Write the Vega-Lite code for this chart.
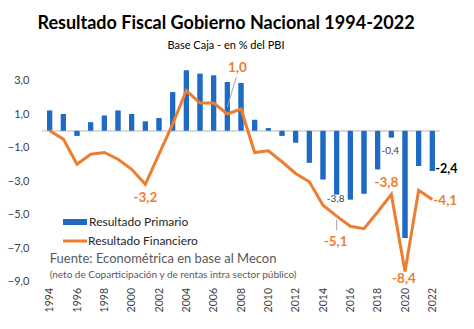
{
  "$schema": "https://vega.github.io/schema/vega-lite/v6.json",
  "width": 420,
  "height": 234.5,
  "autosize": "none",
  "padding": {"left": 31, "top": 47, "right": 23, "bottom": 47.5},
  "background": "white",
  "config": {
    "view": {"stroke": null},
    "font": "Lato",
    "axis": {"labelOverlap": false, "labelBound": false, "labelFlush": false, "domain": false, "ticks": false, "grid": false, "title": null, "tickCount": 50}
  },
  "title": {
    "text": "Resultado Fiscal Gobierno Nacional 1994-2022",
    "subtitle": "Base Caja - en % del PBI",
    "anchor": "middle",
    "dx": -15,
    "font": "Lato",
    "fontSize": 18,
    "fontWeight": "bold",
    "color": "#000000",
    "subtitleFont": "Lato",
    "subtitleFontSize": 11,
    "subtitleColor": "#000000",
    "subtitlePadding": 7,
    "offset": -4
  },
  "datasets": {
    "serie": [
      {"anio": 1994, "primario": 1.2, "financiero": 0.0},
      {"anio": 1995, "primario": 1.0, "financiero": -0.5},
      {"anio": 1996, "primario": -0.3, "financiero": -2.0},
      {"anio": 1997, "primario": 0.5, "financiero": -1.4},
      {"anio": 1998, "primario": 0.9, "financiero": -1.3},
      {"anio": 1999, "primario": 1.2, "financiero": -1.7},
      {"anio": 2000, "primario": 1.0, "financiero": -2.3},
      {"anio": 2001, "primario": 0.55, "financiero": -3.2},
      {"anio": 2002, "primario": 0.75, "financiero": -1.4},
      {"anio": 2003, "primario": 2.3, "financiero": 0.4},
      {"anio": 2004, "primario": 3.6, "financiero": 2.4},
      {"anio": 2005, "primario": 3.4, "financiero": 1.65},
      {"anio": 2006, "primario": 3.3, "financiero": 1.65},
      {"anio": 2007, "primario": 2.9, "financiero": 1.0},
      {"anio": 2008, "primario": 2.85, "financiero": 1.3},
      {"anio": 2009, "primario": 0.65, "financiero": -1.3},
      {"anio": 2010, "primario": 0.15, "financiero": -1.2},
      {"anio": 2011, "primario": -0.3, "financiero": -1.85},
      {"anio": 2012, "primario": -0.7, "financiero": -2.55},
      {"anio": 2013, "primario": -1.9, "financiero": -3.05},
      {"anio": 2014, "primario": -2.9, "financiero": -4.45},
      {"anio": 2015, "primario": -3.8, "financiero": -5.1},
      {"anio": 2016, "primario": -4.1, "financiero": -5.7},
      {"anio": 2017, "primario": -3.75, "financiero": -5.85},
      {"anio": 2018, "primario": -2.3, "financiero": -4.85},
      {"anio": 2019, "primario": -0.4, "financiero": -3.8},
      {"anio": 2020, "primario": -6.4, "financiero": -8.4},
      {"anio": 2021, "primario": -2.1, "financiero": -3.55},
      {"anio": 2022, "primario": -2.4, "financiero": -4.1}
    ],
    "etiquetas": [
      {"id": "f2007", "anio": 2007, "valor": 1.0, "texto": "1,0"},
      {"id": "f2001", "anio": 2001, "valor": -3.2, "texto": "-3,2"},
      {"id": "f2015", "anio": 2015, "valor": -5.1, "texto": "-5,1"},
      {"id": "f2019", "anio": 2019, "valor": -3.8, "texto": "-3,8"},
      {"id": "f2020", "anio": 2020, "valor": -8.4, "texto": "-8,4"},
      {"id": "f2022", "anio": 2022, "valor": -4.1, "texto": "-4,1"},
      {"id": "p2015", "anio": 2015, "valor": -3.8, "texto": "-3,8"},
      {"id": "p2019", "anio": 2019, "valor": -0.4, "texto": "-0,4"},
      {"id": "p2022", "anio": 2022, "valor": -2.4, "texto": "-2,4"}
    ],
    "guias": [
      {"x": 2007, "y": 1.4, "x2": 2007.65, "y2": 3.2},
      {"x": 2015, "y": -5.3, "x2": 2015, "y2": -5.95}
    ],
    "notas": [
      {"anio": 1994, "valor": -7.67, "texto": "Fuente: Econométrica en base al Mecon", "linea": 1},
      {"anio": 1994, "valor": -8.62, "texto": "(neto de Coparticipación y de rentas intra sector público)", "linea": 2}
    ]
  },
  "layer": [
    {
      "data": {"name": "serie"},
      "mark": {"type": "bar", "size": 5},
      "encoding": {
        "x": {
          "field": "anio", "type": "quantitative",
          "scale": {"domain": [1993, 2023], "nice": false, "zero": false},
          "axis": {
            "values": [1994, 1996, 1998, 2000, 2002, 2004, 2006, 2008, 2010, 2012, 2014, 2016, 2018, 2020, 2022],
            "tickCount": 50,
            "format": "d", "labelAngle": 270, "labelPadding": 6, "labelOverlap": false,
            "labelFont": "Lato", "labelFontSize": 10.5, "labelColor": "#404040"
          }
        },
        "y": {
          "field": "primario", "type": "quantitative",
          "scale": {"domain": [-9, 5], "nice": false},
          "axis": {
            "values": [3, 1, -1, -3, -5, -7, -9],
            "tickCount": 50,
            "labelExpr": "replace(format(datum.value, '.1f'), '.', ',')",
            "labelOverlap": false,
            "labelPadding": 2, "labelFont": "Lato", "labelFontSize": 11, "labelColor": "#404040"
          }
        },
        "fill": {
          "datum": "Resultado Primario",
          "scale": {"domain": ["Resultado Primario"], "range": ["#1f6bc4"]},
          "legend": {
            "title": null, "orient": "none", "legendX": 29, "legendY": 160,
            "padding": 0, "symbolSize": 576, "symbolType": "stroke", "labelOffset": -1,
            "labelFont": "Lato", "labelFontSize": 12, "labelColor": "#262626",
            "encode": {
              "symbols": {
                "update": {
                  "stroke": {"value": "#1f6bc4"},
                  "strokeWidth": {"value": 6},
                  "strokeCap": {"value": "butt"},
                  "fill": {"value": "transparent"},
                  "opacity": {"value": 1}
                }
              }
            }
          }
        }
      }
    },
    {
      "data": {"name": "serie"},
      "mark": {"type": "rule", "color": "#d9d9d9", "strokeWidth": 1},
      "encoding": {
        "y": {"datum": 0, "type": "quantitative"},
        "x": {"datum": 1993.5, "type": "quantitative"},
        "x2": {"datum": 2022.5}
      }
    },
    {
      "data": {"name": "serie"},
      "mark": {"type": "bar", "size": 5, "color": "#1f6bc4"},
      "encoding": {
        "x": {"field": "anio", "type": "quantitative"},
        "y": {"field": "primario", "type": "quantitative"}
      }
    },
    {
      "data": {"name": "serie"},
      "mark": {"type": "line", "strokeWidth": 3, "strokeJoin": "miter"},
      "encoding": {
        "x": {"field": "anio", "type": "quantitative"},
        "y": {"field": "financiero", "type": "quantitative"},
        "stroke": {
          "datum": "Resultado Financiero",
          "scale": {"domain": ["Resultado Financiero"], "range": ["#ed7d31"]},
          "legend": {
            "title": null, "orient": "none", "legendX": 30.5, "legendY": 180.5,
            "padding": 0, "symbolSize": 576, "symbolType": "stroke", "labelOffset": -0.5,
            "labelFont": "Lato", "labelFontSize": 12, "labelColor": "#262626",
            "encode": {
              "symbols": {
                "update": {
                  "stroke": {"value": "#ed7d31"},
                  "strokeWidth": {"value": 3},
                  "strokeCap": {"value": "butt"},
                  "fill": {"value": "transparent"},
                  "opacity": {"value": 1}
                }
              }
            }
          }
        }
      }
    },
    {
      "data": {"name": "guias"},
      "mark": {"type": "rule", "color": "#a6a6a6", "strokeWidth": 1},
      "encoding": {
        "x": {"field": "x", "type": "quantitative"},
        "y": {"field": "y", "type": "quantitative"},
        "x2": {"field": "x2"},
        "y2": {"field": "y2"}
      }
    },
    {
      "data": {"name": "etiquetas"},
      "transform": [{"filter": "datum.id === 'f2007'"}],
      "mark": {"type": "text", "font": "Lato", "fontSize": 13.5, "fontWeight": "bold", "color": "#ed7d31", "align": "center", "baseline": "middle", "dx": 10, "dy": -46},
      "encoding": {"x": {"field": "anio", "type": "quantitative"}, "y": {"field": "valor", "type": "quantitative"}, "text": {"field": "texto"}}
    },
    {
      "data": {"name": "etiquetas"},
      "transform": [{"filter": "datum.id === 'f2001'"}],
      "mark": {"type": "text", "font": "Lato", "fontSize": 13.5, "fontWeight": "bold", "color": "#ed7d31", "align": "center", "baseline": "middle", "dx": 0, "dy": 14},
      "encoding": {"x": {"field": "anio", "type": "quantitative"}, "y": {"field": "valor", "type": "quantitative"}, "text": {"field": "texto"}}
    },
    {
      "data": {"name": "etiquetas"},
      "transform": [{"filter": "datum.id === 'f2015'"}],
      "mark": {"type": "text", "font": "Lato", "fontSize": 13.5, "fontWeight": "bold", "color": "#ed7d31", "align": "center", "baseline": "middle", "dx": -1, "dy": 26},
      "encoding": {"x": {"field": "anio", "type": "quantitative"}, "y": {"field": "valor", "type": "quantitative"}, "text": {"field": "texto"}}
    },
    {
      "data": {"name": "etiquetas"},
      "transform": [{"filter": "datum.id === 'f2019'"}],
      "mark": {"type": "text", "font": "Lato", "fontSize": 13.5, "fontWeight": "bold", "color": "#ed7d31", "align": "center", "baseline": "middle", "dx": -5, "dy": -11},
      "encoding": {"x": {"field": "anio", "type": "quantitative"}, "y": {"field": "valor", "type": "quantitative"}, "text": {"field": "texto"}}
    },
    {
      "data": {"name": "etiquetas"},
      "transform": [{"filter": "datum.id === 'f2020'"}],
      "mark": {"type": "text", "font": "Lato", "fontSize": 13.5, "fontWeight": "bold", "color": "#ed7d31", "align": "center", "baseline": "middle", "dx": -1, "dy": 8},
      "encoding": {"x": {"field": "anio", "type": "quantitative"}, "y": {"field": "valor", "type": "quantitative"}, "text": {"field": "texto"}}
    },
    {
      "data": {"name": "etiquetas"},
      "transform": [{"filter": "datum.id === 'f2022'"}],
      "mark": {"type": "text", "font": "Lato", "fontSize": 13.5, "fontWeight": "bold", "color": "#ed7d31", "align": "left", "baseline": "middle", "dx": 1, "dy": 2},
      "encoding": {"x": {"field": "anio", "type": "quantitative"}, "y": {"field": "valor", "type": "quantitative"}, "text": {"field": "texto"}}
    },
    {
      "data": {"name": "etiquetas"},
      "transform": [{"filter": "datum.id === 'p2015'"}],
      "mark": {"type": "text", "font": "Lato", "fontSize": 10, "color": "#404040", "align": "center", "baseline": "middle", "dx": -1, "dy": 5},
      "encoding": {"x": {"field": "anio", "type": "quantitative"}, "y": {"field": "valor", "type": "quantitative"}, "text": {"field": "texto"}}
    },
    {
      "data": {"name": "etiquetas"},
      "transform": [{"filter": "datum.id === 'p2019'"}],
      "mark": {"type": "text", "font": "Lato", "fontSize": 10, "color": "#404040", "align": "center", "baseline": "middle", "dx": -1, "dy": 14},
      "encoding": {"x": {"field": "anio", "type": "quantitative"}, "y": {"field": "valor", "type": "quantitative"}, "text": {"field": "texto"}}
    },
    {
      "data": {"name": "etiquetas"},
      "transform": [{"filter": "datum.id === 'p2022'"}],
      "mark": {"type": "text", "font": "Lato", "fontSize": 12.5, "fontWeight": "bold", "color": "#000000", "align": "left", "baseline": "middle", "dx": 3, "dy": -2},
      "encoding": {"x": {"field": "anio", "type": "quantitative"}, "y": {"field": "valor", "type": "quantitative"}, "text": {"field": "texto"}}
    },
    {
      "data": {"name": "notas"},
      "transform": [{"filter": "datum.linea === 1"}],
      "mark": {"type": "text", "font": "Lato", "fontSize": 13, "color": "#595959", "align": "left", "baseline": "middle"},
      "encoding": {"x": {"field": "anio", "type": "quantitative"}, "y": {"field": "valor", "type": "quantitative"}, "text": {"field": "texto"}}
    },
    {
      "data": {"name": "notas"},
      "transform": [{"filter": "datum.linea === 2"}],
      "mark": {"type": "text", "font": "Lato", "fontSize": 10, "color": "#595959", "align": "left", "baseline": "middle"},
      "encoding": {"x": {"field": "anio", "type": "quantitative"}, "y": {"field": "valor", "type": "quantitative"}, "text": {"field": "texto"}}
    }
  ]
}
